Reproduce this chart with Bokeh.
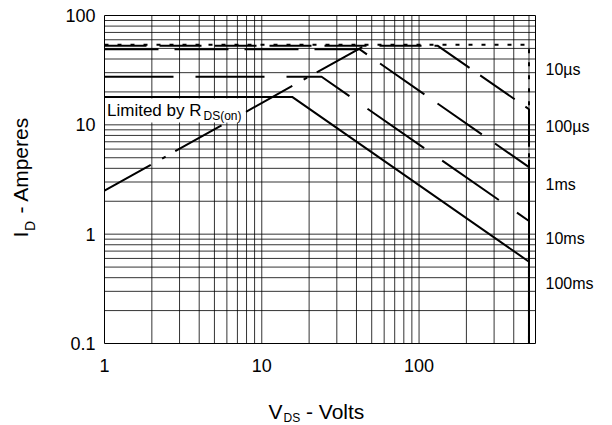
import math
from bokeh.plotting import figure
from bokeh.models import Label, BoxAnnotation, Range1d
from bokeh.embed import file_html
from bokeh.resources import INLINE
from bokeh.core.properties import value

# ---- axis ranges and ticks ----
x_lim = [1, 550]
y_lim = [0.1, 100]
x_major = [1, 10, 100]
y_major = [0.1, 1, 10, 100]
x_tick_labels = ["1", "10", "100"]
y_tick_labels = ["0.1", "1", "10", "100"]
x_minor = [2, 3, 4, 5, 6, 7, 8, 9, 20, 30, 40, 50, 60, 70, 80, 90,
           200, 300, 400, 500]
y_minor = [0.2, 0.3, 0.4, 0.5, 0.6, 0.7, 0.8, 0.9, 2, 3, 4, 5, 6, 7, 8, 9,
           20, 30, 40, 50, 60, 70, 80, 90]

# ---- SOA boundary curves (V_DS in volts, I_D in amperes) ----
pulse_labels = ["10µs", "100µs", "1ms", "10ms", "100ms"]

v_10us = [1, 500, 500]
i_10us = [54, 54, 0.1]

v_100us = [1, 131, 500, 500]
i_100us = [53, 53, 13.9, 0.1]

v_1ms = [1, 42, 500, 500]
i_1ms = [49, 49, 4.1, 0.1]

v_10ms = [1, 24, 500, 500]
i_10ms = [27.5, 27.5, 1.32, 0.1]

v_100ms = [1, 15.6, 500, 500]
i_100ms = [18, 18, 0.56, 0.1]

# R_DS(on) limit line
v_rds = [1, 43.5]
i_rds = [2.5, 51.5]

FONT = "Liberation Sans"

# plot-area geometry in pixels (the log axes box inside the 612x425 page)
W, H = 612, 425
FL, FR, FT, FB = 104, 535, 15, 343
XDEC = (FR - FL) / math.log10(x_lim[1] / x_lim[0])
YDEC = (FB - FT) / math.log10(y_lim[1] / y_lim[0])


def dx(px):
    """page x pixel -> data x (log scale)"""
    return x_lim[0] * 10 ** ((px - FL) / XDEC)


def dy(py):
    """page y pixel -> data y (log scale)"""
    return y_lim[1] * 10 ** (-(py - FT) / YDEC)


# The frame covers the whole page so that margin texts are not clipped;
# the log scales put the data box [1,550]x[0.1,100] where the chart's axes box is.
p = figure(width=W, height=H, x_axis_type="log", y_axis_type="log",
           x_range=Range1d(dx(0), dx(W)), y_range=Range1d(dy(H), dy(0)),
           x_axis_location=None, y_axis_location=None,
           output_backend="svg", toolbar_location=None, min_border=0)
p.background_fill_color = "white"
p.border_fill_color = "white"
p.outline_line_color = None
p.xgrid.visible = False
p.ygrid.visible = False

# ---- grid (major + minor decade lines) bounded to the axes box ----
gx = x_minor + x_major[1:]
gy = y_minor + y_major[1:-1]
p.segment(x0=gx, y0=[y_lim[0]] * len(gx), x1=gx, y1=[y_lim[1]] * len(gx),
          line_color="black", line_width=1, line_alpha=0.8)
p.segment(x0=[x_lim[0]] * len(gy), y0=gy, x1=[x_lim[1]] * len(gy), y1=gy,
          line_color="black", line_width=1, line_alpha=0.8)
p.quad(left=x_lim[0], right=x_lim[1], bottom=y_lim[0], top=y_lim[1],
       fill_color=None, line_color="black", line_width=1)

# ---- tick labels ----
p.text(x=x_major, y=[dy(365)] * len(x_major), text=x_tick_labels,
       text_font=value(FONT), text_font_size=value("18px"), text_color="black",
       text_align="center", text_baseline="middle")
p.text(x=[dx(95)] * len(y_major), y=y_major, text=y_tick_labels,
       text_font=value(FONT), text_font_size=value("18px"), text_color="black",
       text_align="right", text_baseline="middle")

# ---- curves ----
lw = 2
p.line(v_10us, i_10us, line_color="black", line_width=lw, line_dash="4 9")
p.line(v_100us, i_100us, line_color="black", line_width=lw, line_dash="42 13")
p.line(v_1ms, i_1ms, line_color="black", line_width=lw, line_dash="54 16")
p.line(v_10ms, i_10ms, line_color="black", line_width=lw, line_dash="69 22")
p.line(v_100ms, i_100ms, line_color="black", line_width=lw)
p.line(v_rds, i_rds, line_color="black", line_width=lw, line_dash="53 13 4 11")


def add_text(px, py, text, size, angle=0.0):
    p.add_layout(Label(x=dx(px), y=dy(py), text=text, angle=angle, text_font=FONT,
                       text_font_size=size, text_color="black",
                       text_align="left", text_baseline="middle"))


# ---- "Limited by R_DS(on)" label with white box ----
p.add_layout(BoxAnnotation(left=dx(FL + 1), right=dx(241), top=dy(98), bottom=dy(122),
                           fill_color="white", fill_alpha=1, line_color=None))
add_text(106.5, 109.7, "Limited by R", "17px")
add_text(203, 115.5, "DS(on)", "12px")

# ---- pulse-width labels on the right ----
label_centers_px = [68.7, 125.8, 183.8, 237.5, 282.5]
for name, cy in zip(pulse_labels, label_centers_px):
    add_text(545, cy, name, "16px")

# ---- axis titles with subscripts ----
add_text(268, 411.2, "V", "21px")
add_text(283, 417.2, "DS", "12px")
add_text(305.5, 411.2, "- Volts", "21px")

ang = math.pi / 2
add_text(20, 237, "I", "21px", ang)
add_text(29, 230.5, "D", "14px", ang)
add_text(20, 213, "- Amperes", "21px", ang)

open("out.html", "w").write(file_html(p, INLINE))
